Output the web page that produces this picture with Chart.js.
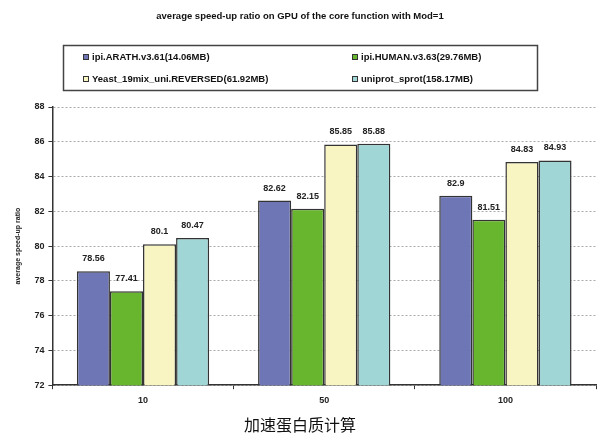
<!DOCTYPE html>
<html>
<head>
<meta charset="utf-8">
<script src="https://cdn.jsdelivr.net/npm/chart.js@4"></script>
<style>
  html,body{margin:0;padding:0;background:#fff;}
  #wrap{width:598px;height:436px;position:relative;}
</style>
</head>
<body>
<div id="wrap"><canvas id="c"></canvas></div>
<script>
// categories and series
const categories=['10','50','100'];
const seriesNames=['ipi.ARATH.v3.61(14.06MB)','ipi.HUMAN.v3.63(29.76MB)','Yeast_19mix_uni.REVERSED(61.92MB)','uniprot_sprot(158.17MB)'];
const arath=[78.56,82.62,82.9];
const human=[77.41,82.15,81.51];
const yeast=[80.1,85.85,84.83];
const uniprot=[80.47,85.88,84.93];
const yTicks=[72,74,76,78,80,82,84,86,88];
const colors=['#6e76b6','#68b52e','#f8f5c2','#a0d6d6'];

const TITLE='average speed-up ratio on GPU of the core function with Mod=1';
const CAPTION='加速蛋白质计算';
const F='"Liberation Sans", Arial, sans-serif';

// title, boxed legend, value labels, caption
const deco={
  id:'deco',
  afterDatasetsDraw(chart){
    const ctx=chart.ctx;
    ctx.save();
    ctx.fillStyle='#222';
    ctx.font='bold 9px '+F;
    ctx.textAlign='center';ctx.textBaseline='bottom';
    chart.data.datasets.forEach((ds,i)=>{
      chart.getDatasetMeta(i).data.forEach((el,j)=>{
        ctx.fillText(String(ds.data[j]),el.x,el.y-8);
      });
    });
    ctx.restore();
  },
  afterDraw(chart){
    const ctx=chart.ctx;
    ctx.save();
    ctx.fillStyle='#111';
    ctx.font='bold 9.5px '+F;
    ctx.textAlign='center';ctx.textBaseline='middle';
    ctx.fillText(TITLE,300,16);

    // legend box
    ctx.strokeStyle='#444';ctx.lineWidth=1.5;
    ctx.strokeRect(63.5,45.5,474,45);
    const cols=[83,352],rows=[57,79];
    ctx.font='bold 9.5px '+F;
    ctx.textAlign='left';
    chart.data.datasets.forEach((ds,i)=>{
      const x=cols[i%2],y=rows[Math.floor(i/2)];
      ctx.fillStyle=ds.backgroundColor;
      ctx.fillRect(x,y-3,6,6);
      ctx.strokeStyle='#333';ctx.lineWidth=1;
      ctx.strokeRect(x+0.5,y-2.5,5,5);
      ctx.fillStyle='#111';
      ctx.fillText(ds.label,x+9,y);
    });

    ctx.font='16px "Noto Sans CJK SC", sans-serif';
    ctx.textAlign='center';
    ctx.fillStyle='#111';
    ctx.fillText(CAPTION,300,425);
    ctx.restore();
  }
};

new Chart(document.getElementById('c'),{type:'bar',
  data:{labels:categories,
    datasets:[arath,human,yeast,uniprot].map((d,i)=>({label:seriesNames[i],data:d,
      backgroundColor:colors[i],borderColor:'#333',borderWidth:1.5,borderSkipped:'bottom'}))},
  options:{responsive:true,maintainAspectRatio:false,animation:false,
    categoryPercentage:0.73,barPercentage:1,
    layout:{padding:{top:107,left:10,right:2,bottom:24}},
    plugins:{legend:{display:false},tooltip:{enabled:false}},
    scales:{
      x:{grid:{drawOnChartArea:false,tickLength:4,color:'#333',offset:true},
         border:{display:true,color:'#333',width:1.5},
         ticks:{color:'#222',font:{family:F,size:9,weight:'bold'},padding:6}},
      y:{min:72,max:88,afterBuildTicks:ax=>{ax.ticks=yTicks.map(v=>({value:v}));},
         grid:{color:'#aaa',lineWidth:1,tickLength:4,tickColor:'#333',tickBorderDash:[]},
         border:{display:true,color:'#333',width:1.5,dash:[2,2]},
         ticks:{color:'#222',font:{family:F,size:9,weight:'bold'},padding:4},
         title:{display:true,text:'average speed-up ratio',color:'#222',font:{family:F,size:7,weight:'bold'},padding:{bottom:8}}}
    }},
  plugins:[deco]
});
</script>
</body>
</html>
